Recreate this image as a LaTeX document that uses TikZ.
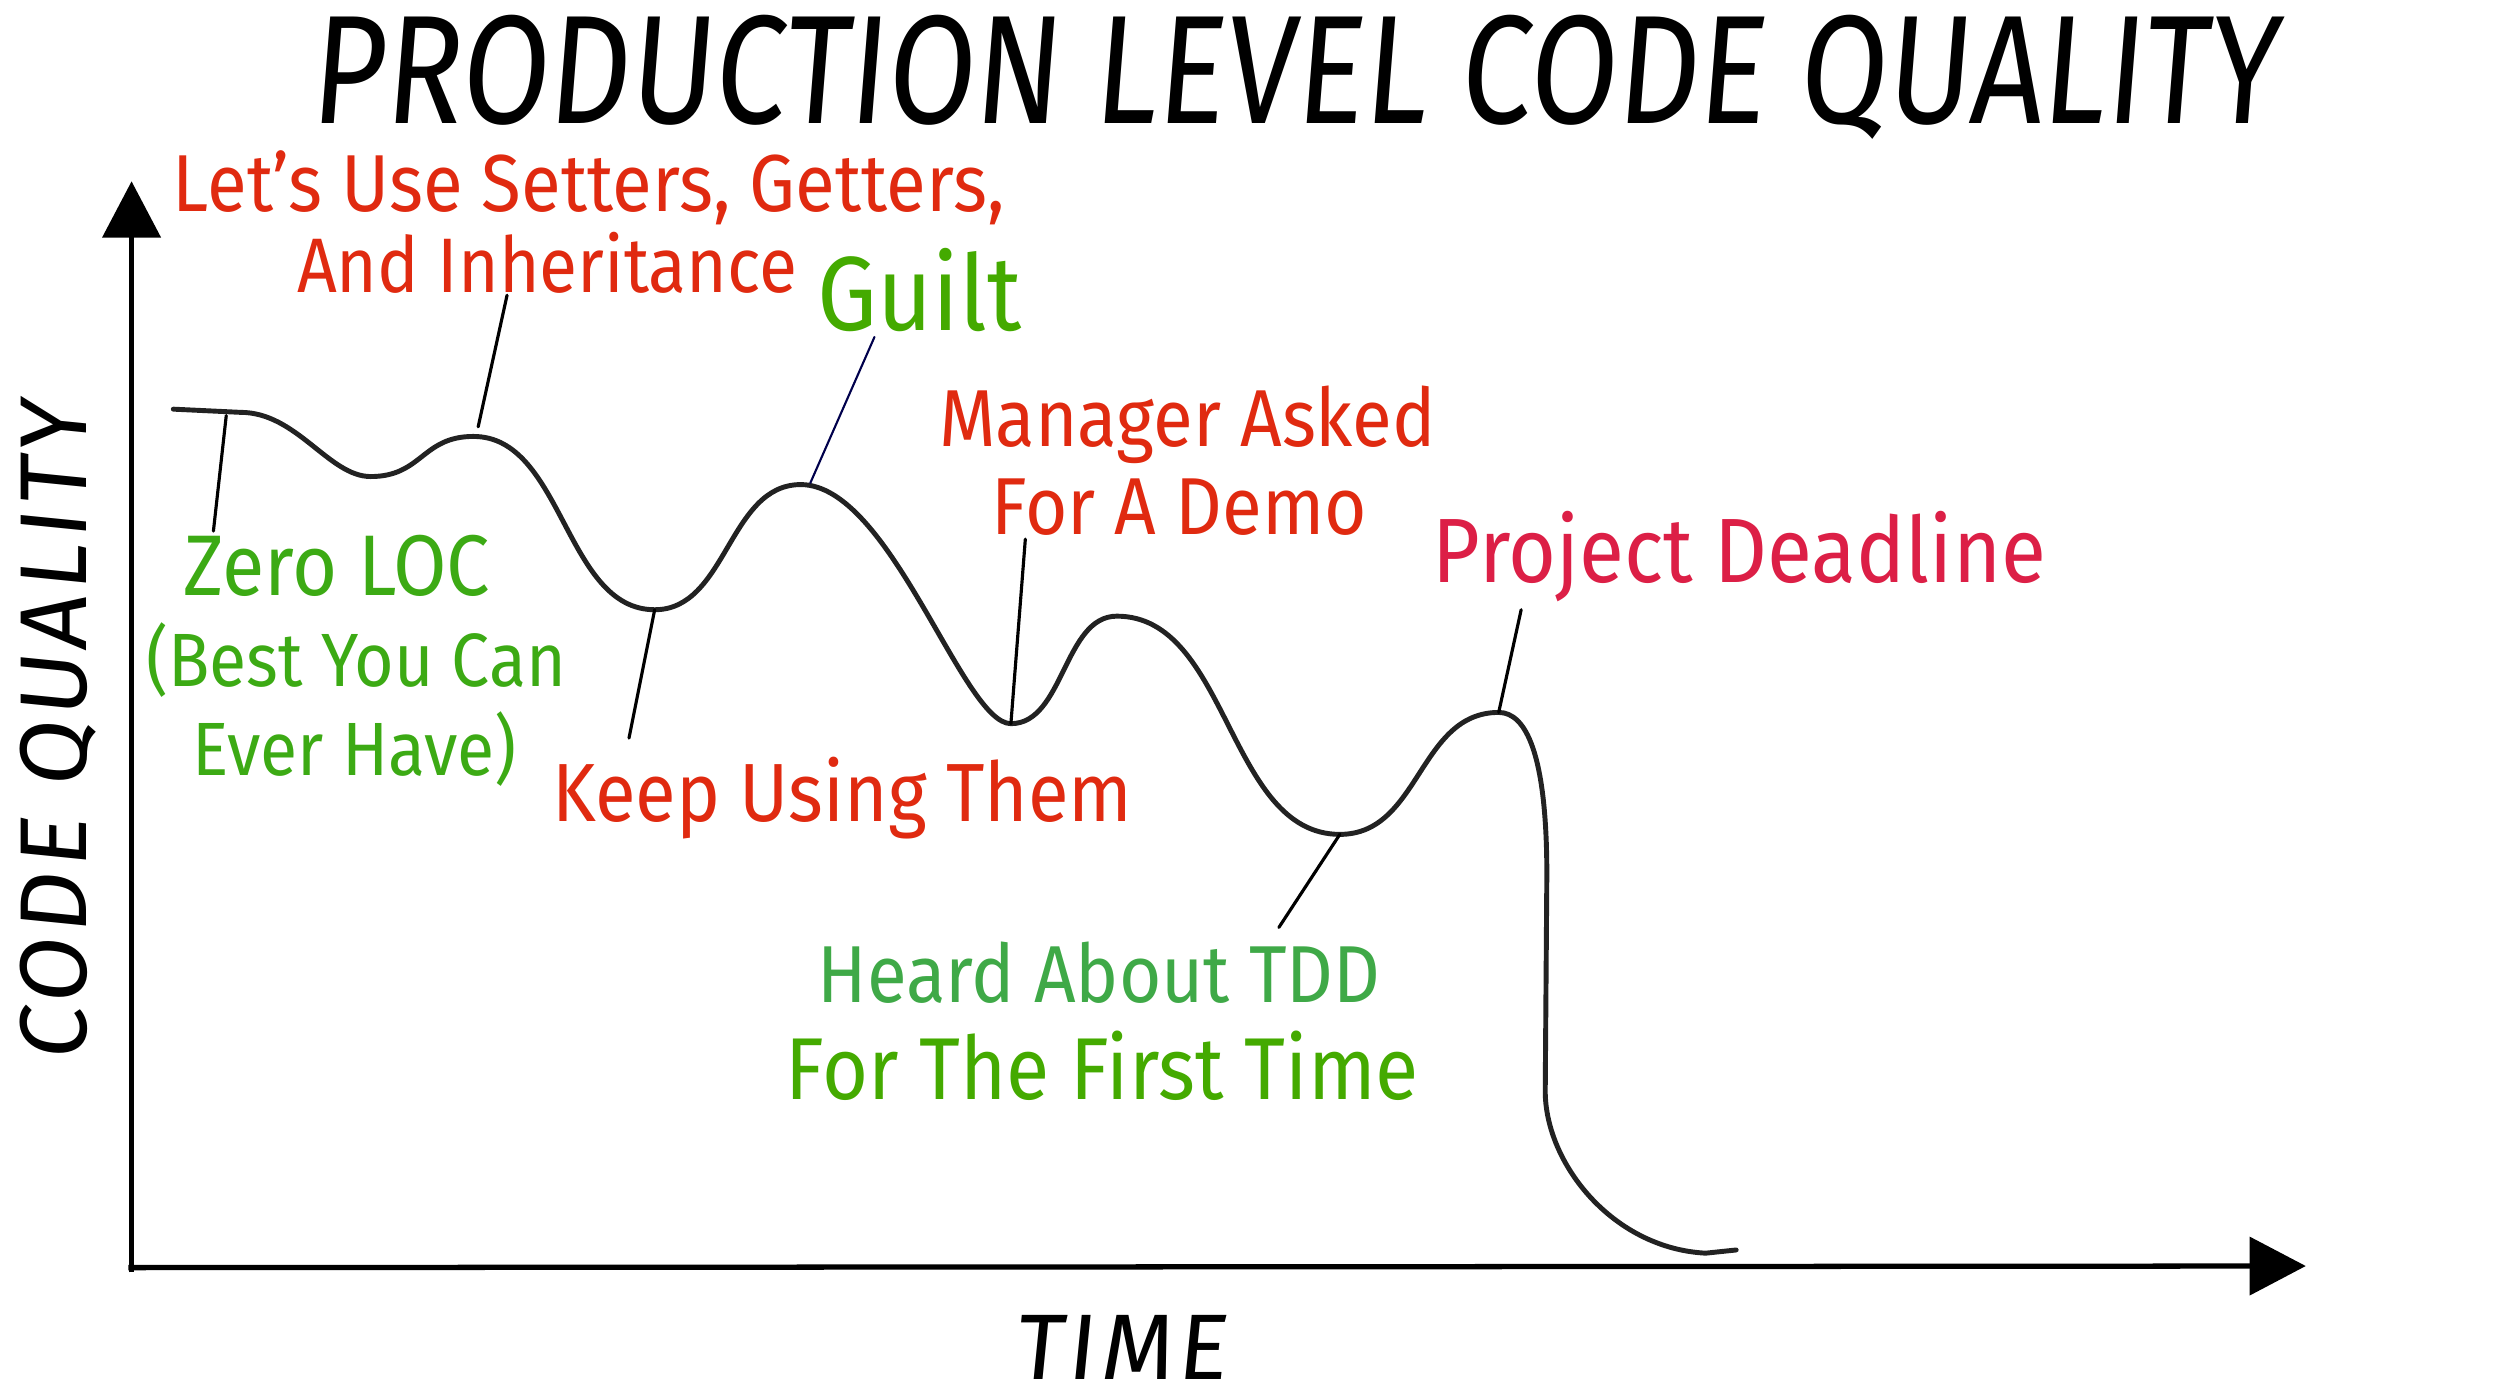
\documentclass[tikz,border=0pt]{standalone}
\usepackage{fontspec}
\usetikzlibrary{arrows.meta}
\newfontfamily\handfont[FakeStretch=0.9]{Fira Sans}
\newfontfamily\titlefont[FakeStretch=0.82,FakeSlant=0.08]{Fira Sans}
\newfontfamily\axisfont[FakeSlant=0.1,LetterSpace=5]{Fira Sans}
\definecolor{labelred}{HTML}{E02A10}
\definecolor{labelgreen}{HTML}{3CAA14}
\definecolor{tddgreen}{HTML}{3FA947}
\definecolor{guiltgreen}{HTML}{44AA00}
\definecolor{deadpink}{HTML}{DC1F46}
\definecolor{curvegray}{HTML}{222222}
\tikzset{
 lbl/.style={inner sep=0pt,anchor=base,font=\handfont\fontsize{23}{26}\selectfont},
 redlbl/.style={lbl,text=labelred},
 greenlbl/.style={lbl,text=labelgreen},
 callout/.style={line width=0.9pt,line cap=round},
 axis/.style={line width=1.5pt,-{Triangle[width=16.4pt,length=16pt]}}
}
\begin{document}
\begin{tikzpicture}[x=0.016046cm,y=-0.016046cm]
 \useasboundingbox (0,0) rectangle (1568,872.5);
 % axes
 \coordinate (O) at (82,790);
 \coordinate (ytip) at (82,113);
 \coordinate (xtip) at (1437,789);
 \draw[axis] (82,793) -- (ytip);
 \draw[axis] (80,790) -- (xtip);
 \node[inner sep=0pt,anchor=base,font=\titlefont\fontsize{44}{48}\selectfont] (title) at (806,77) {PRODUCTION LEVEL CODE QUALITY};
 \node[inner sep=0pt,anchor=base,font=\axisfont\fontsize{26.5}{30}\selectfont] (time) at (698,860) {TIME};
 \node[inner sep=0pt,anchor=base,rotate=90,font=\axisfont\fontsize{27}{30}\selectfont] (quality) at (54,456) {CODE QUALITY};
 % turning points of the curve
 \coordinate (start) at (108,255);
 \coordinate (flat) at (150,257);
 \coordinate (min1) at (231,297);
 \coordinate (max1) at (295,272);
 \coordinate (min2) at (408,380);
 \coordinate (max2) at (499,302);
 \coordinate (min3) at (630,451);
 \coordinate (max3) at (696,384);
 \coordinate (min4) at (835,520);
 \coordinate (max4) at (934,444);
 \coordinate (drop1) at (964,545);
 \coordinate (drop2) at (963,680);
 \coordinate (bottom) at (1063,781);
 \coordinate (stop) at (1082,779);
 \draw[line width=1.4pt,curvegray,line cap=round] (start) -- (flat)
  .. controls (185,257) and (205,297) .. (min1)
  .. controls (263,297) and (263,272) .. (max1)
  .. controls (351,272) and (352,380) .. (min2)
  .. controls (453,380) and (454,302) .. (max2)
  .. controls (555,302) and (600,451) .. (min3)
  .. controls (663,451) and (663,384) .. (max3)
  .. controls (766,384) and (765,520) .. (min4)
  .. controls (885,520) and (884,444) .. (max4)
  .. controls (951,444) and (964,470) .. (drop1)
  -- (drop2)
  .. controls (963,725) and (1005,778) .. (bottom)
  -- (stop);
 % labels
 \node[redlbl] (setters) at (367,132) {Let’s Use Setters, Getters,};
 \node[redlbl,font=\handfont\fontsize{22}{26}\selectfont] (inherit) at (341,182) {And Inheritance};
 \node[lbl,text=guiltgreen,font=\handfont\fontsize{30}{34}\selectfont] (guilt) at (573,206) {Guilt};
 \node[redlbl] (manager) at (740,278) {Manager Asked};
 \node[redlbl] (demo) at (735,333) {For A Demo};
 \node[lbl,text=deadpink,font=\handfont\fontsize{26}{30}\selectfont] (deadline) at (1084,363) {Project Deadline};
 \node[greenlbl,font=\handfont\fontsize{24.5}{28}\selectfont] (zero) at (210,371) {Zero LOC};
 \node[greenlbl,font=\handfont\fontsize{21.5}{24}\selectfont] (best) at (222,428) {(Best You Can};
 \node[greenlbl,font=\handfont\fontsize{21.5}{24}\selectfont] (ever) at (221,483) {Ever Have)};
 \node[redlbl,font=\handfont\fontsize{23.5}{28}\selectfont] (keep) at (525,512) {Keep Using Them};
 \node[lbl,text=tddgreen] (tdd) at (685,625) {Heard About TDD};
 \node[lbl,text=guiltgreen,font=\handfont\fontsize{25}{28}\selectfont] (first) at (687,685) {For The First Time};
 % callouts
 \coordinate (zeroA) at (141,259); \coordinate (zeroB) at (133,331);
 \coordinate (setA) at (298,266); \coordinate (setB) at (316,184);
 \coordinate (guiltA) at (505,301); \coordinate (guiltB) at (545,210);
 \coordinate (keepB) at (392,460);
 \coordinate (manB) at (639,336);
 \coordinate (tddB) at (797,578);
 \coordinate (deadB) at (948,380);
 \foreach \a/\b in {zeroA/zeroB,setA/setB,min2/keepB,min3/manB,min4/tddB,max4/deadB}
  \draw[callout] (\a) -- (\b);
 \draw[callout,line width=0.6pt,color=black!70!blue] (guiltA) -- (guiltB);
\end{tikzpicture}
\end{document}
